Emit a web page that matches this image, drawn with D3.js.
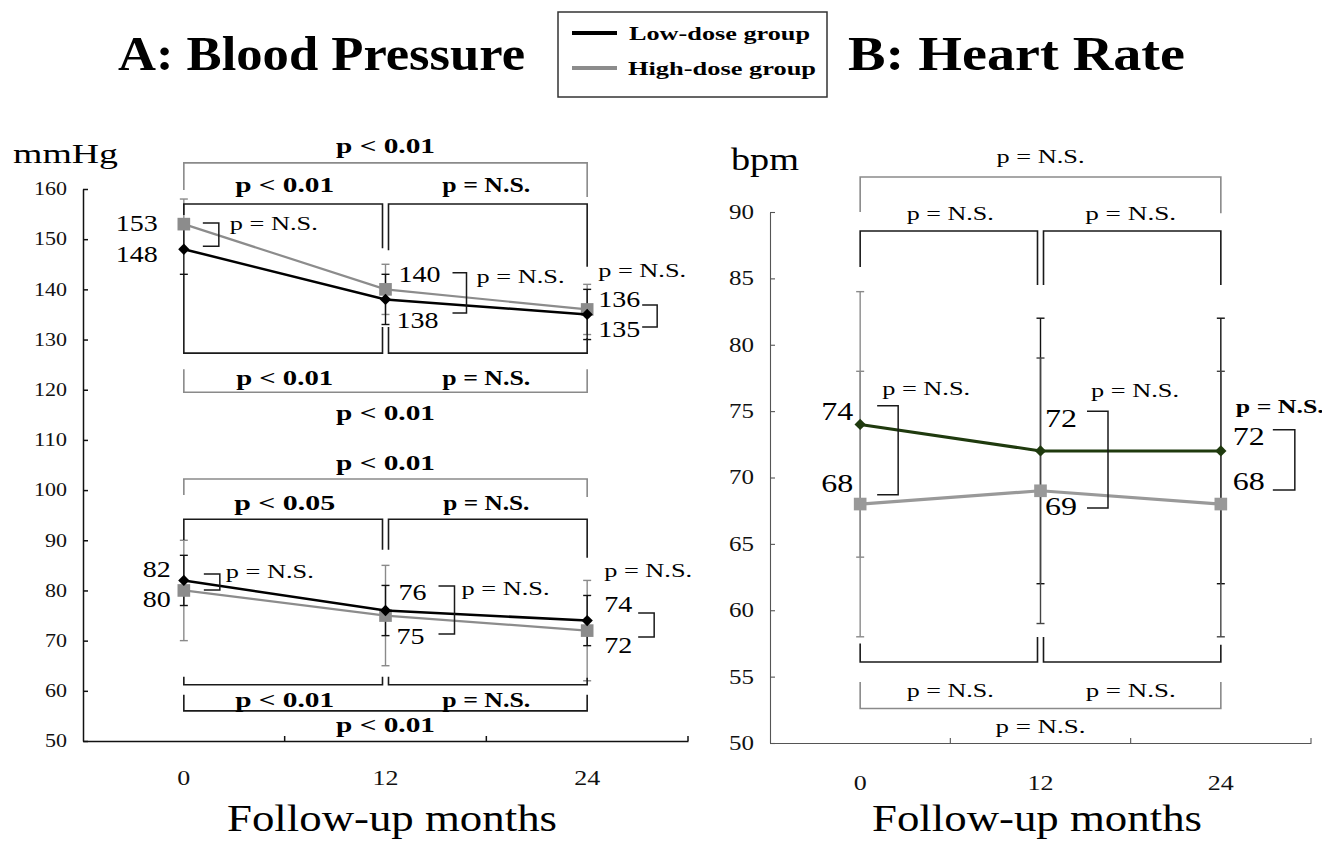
<!DOCTYPE html>
<html>
<head>
<meta charset="utf-8">
<script src="https://cdn.jsdelivr.net/npm/d3@7"></script>
<style>
  body { margin: 0; background: #fff; }
  text { font-family: "Liberation Serif", "Times New Roman", serif; }
</style>
</head>
<body>
<div id="chart"></div>
<script>
// ---- data ----
var months = ["0", "12", "24"];
var groups = ["Low-dose group", "High-dose group"];

var sbpLow = [148, 138, 135],  sbpLowSD = [5, 5, 5];
var sbpHigh = [153, 140, 136], sbpHighSD = [5, 5, 5];
var dbpLow = [82, 76, 74],     dbpLowSD = [5, 5, 5];
var dbpHigh = [80, 75, 72],    dbpHighSD = [10, 10, 10];
var hrLow = [74, 72, 72],      hrLowSD = [10, 10, 10];
var hrHigh = [68, 69, 68],     hrHighSD = [10, 10, 10];

var bpTicks = [50, 60, 70, 80, 90, 100, 110, 120, 130, 140, 150, 160];
var hrTicks = [50, 55, 60, 65, 70, 75, 80, 85, 90];

// significance brackets between visits (a,b = visit index, lvl/l0/l1 in axis units)
var sbpBrackets = [
  {a: 0, b: 2, lvl: 165.2, l0: 159.8, l1: 158.4, gray: true},
  {a: 0, b: 1, lvl: 157.0, l0: 154.8, l1: 148.2},
  {a: 1, b: 2, lvl: 157.0, l0: 147.8, l1: 144.5},
  {a: 0, b: 1, lvl: 127.3, l0: 142.9, l1: 132.5},
  {a: 1, b: 2, lvl: 127.3, l0: 132.5, l1: 130.3},
  {a: 0, b: 2, lvl: 119.5, l0: 124.1, l1: 124.1, gray: true}
];
var sbpPvals = [
  {t: "p < 0.01", a: 0, b: 2, v: 167.2, w: 99},
  {t: "p < 0.01", a: 0, b: 1, v: 159.4, w: 99},
  {t: "p = N.S.", a: 1, b: 2, v: 159.4, w: 88},
  {t: "p < 0.01", a: 0, b: 1, v: 120.9, w: 97},
  {t: "p = N.S.", a: 1, b: 2, v: 120.9, w: 88},
  {t: "p < 0.01", a: 0, b: 2, v: 114.0, w: 99}
];
var dbpBrackets = [
  {a: 0, b: 2, lvl: 102.2, l0: 99.0, l1: 98.6, gray: true},
  {a: 0, b: 1, lvl: 94.2, l0: 90.05, l1: 88.1},
  {a: 1, b: 2, lvl: 94.2, l0: 88.1, l1: 86.5},
  {a: 0, b: 1, lvl: 61.2, l0: 62.8, l1: 62.8},
  {a: 1, b: 2, lvl: 61.2, l0: 62.8, l1: 62.6},
  {a: 0, b: 2, lvl: 56.0, l0: 59.2, l1: 59.2}
];
var dbpPvals = [
  {t: "p < 0.01", a: 0, b: 2, v: 104.0, w: 99},
  {t: "p < 0.05", a: 0, b: 1, v: 96.0, w: 101},
  {t: "p = N.S.", a: 1, b: 2, v: 96.0, w: 86},
  {t: "p < 0.01", a: 0, b: 1, v: 56.8, w: 99},
  {t: "p = N.S.", a: 1, b: 2, v: 56.8, w: 88},
  {t: "p < 0.01", a: 0, b: 2, v: 51.8, w: 99}
];
var hrBrackets = [
  {a: 0, b: 2, lvl: 92.64, l0: 90.0, l1: 89.9, gray: true},
  {a: 0, b: 1, lvl: 88.57, l0: 85.86, l1: 84.5},
  {a: 1, b: 2, lvl: 88.57, l0: 84.5, l1: 84.5},
  {a: 0, b: 1, lvl: 56.1, l0: 57.5, l1: 57.98},
  {a: 1, b: 2, lvl: 56.1, l0: 57.98, l1: 57.4},
  {a: 0, b: 2, lvl: 52.6, l0: 54.6, l1: 54.6, gray: true}
];
var hrPvals = [
  {t: "p = N.S.", a: 0, b: 2, v: 93.7, w: 88},
  {t: "p = N.S.", a: 0, b: 1, v: 89.4, w: 87},
  {t: "p = N.S.", a: 1, b: 2, v: 89.4, w: 91},
  {t: "p = N.S.", a: 0, b: 1, v: 53.5, w: 87},
  {t: "p = N.S.", a: 1, b: 2, v: 53.5, w: 90},
  {t: "p = N.S.", a: 0, b: 2, v: 50.75, w: 90}
];

// between-group labels at each visit: [dx, axis value]
var sbpCmp = [
  {hi: [-26, 151.6], lo: [-26, 145.45], br: [19, 35, 153.2, 148.6], p: [46, 151.8]},
  {hi: [13, 141.5], lo: [11, 132.3], br: [67, 81, 143.3, 135.3], p: [91, 141.3]},
  {hi: [11, 136.5], lo: [11, 130.5], br: [55, 70, 136.9, 132.5], p: [11, 142.5]}
];
var dbpCmp = [
  {hi: [-13, 82.7], lo: [-13, 76.7], br: [20, 36, 83.3, 80.1], p: [42, 82.5]},
  {hi: [13, 78.1], lo: [11, 69.3], br: [53, 69, 80.9, 71.3], p: [76, 79.1]},
  {hi: [17, 75.7], lo: [17, 67.5], br: [51, 67, 75.5, 70.7], p: [17, 82.7]}
];
var hrCmp = [
  {hi: [-7, 74.33], lo: [-7, 68.9], br: [17, 38, 75.4, 68.7], p: [22, 76.2]},
  {hi: [4.5, 73.8], lo: [4.5, 67.2], br: [46.5, 67.5, 75.0, 67.7], p: [50.5, 76.06]},
  {hi: [12, 72.45], lo: [12, 69.06], br: [52, 74, 73.6, 69.06], p: [15, 74.86, true]}
];

// ---- drawing ----
var W = 1322, H = 841;
var svg = d3.select("#chart").append("svg").attr("width", W).attr("height", H);
svg.append("rect").attr("width", W).attr("height", H).attr("fill", "#fff");

var xL = d3.scaleBand().domain(months).range([83, 688]);
var yL = d3.scaleLinear().domain([50, 160]).range([741, 189]);
var xR = d3.scaleBand().domain(months).range([770, 1311]);
var yR = d3.scaleLinear().domain([50, 90]).range([743, 212]);

function cx(x, i) { return x(months[i]) + x.bandwidth() / 2; }

function txt(g, x, y, s, o) {
  o = o || {};
  var t = g.append("text").attr("x", x).attr("y", y).text(s)
    .attr("text-anchor", o.anchor || "start")
    .attr("fill", o.fill || "#000")
    .style("font-size", (o.size || 18) + "px")
    .style("font-weight", o.bold ? "bold" : "normal");
  if (o.w) t.attr("textLength", o.w).attr("lengthAdjust", "spacingAndGlyphs");
  return t;
}

function axes(g, x, y, ticks, o) {
  var x0 = x.range()[0], y0 = y.range()[0];
  var ya = g.append("g").attr("transform", "translate(" + x0 + ",0)")
    .call(d3.axisLeft(y).tickValues(ticks).tickSizeInner(-5).tickSizeOuter(0).tickPadding(16));
  ya.attr("font-family", null);
  ya.selectAll("path,line").attr("stroke", o.color).attr("stroke-width", o.sw);
  ya.selectAll("text").style("font-size", o.tickSize + "px")
    .attr("fill", "#111")
    .attr("textLength", function(d) { return String(d).length * o.digitW; })
    .attr("lengthAdjust", "spacingAndGlyphs");

  var xa = g.append("g").attr("transform", "translate(0," + y0 + ")")
    .call(d3.axisBottom(x).tickSize(0).tickSizeOuter(0));
  xa.attr("font-family", null);
  xa.selectAll("path").attr("stroke", o.color).attr("stroke-width", o.sw);
  xa.selectAll("text").attr("y", o.xLabDy).attr("dy", 0)
    .style("font-size", "22px").attr("fill", "#111")
    .attr("textLength", function(d) { return d.length * 13; })
    .attr("lengthAdjust", "spacingAndGlyphs");
  // category boundary ticks
  var bnd = months.slice(1).map(function(m) { return x(m); }).concat([x.range()[1]]);
  g.selectAll(null).data(bnd).enter().append("line")
    .attr("x1", function(d) { return d; }).attr("x2", function(d) { return d; })
    .attr("y1", y0).attr("y2", y0 - 5)
    .attr("stroke", o.color).attr("stroke-width", o.sw);
}

function errorBars(g, x, y, vals, sds, colors) {
  vals.forEach(function(v, i) {
    var c = cx(x, i), top = y(v + sds[i]), bot = y(v - sds[i]);
    var col = colors[i];
    g.append("line").attr("x1", c).attr("x2", c).attr("y1", top).attr("y2", bot)
      .attr("stroke", col).attr("stroke-width", 1.4);
    [top, bot].forEach(function(yy) {
      g.append("line").attr("x1", c - 4).attr("x2", c + 4).attr("y1", yy).attr("y2", yy)
        .attr("stroke", col).attr("stroke-width", 1.4);
    });
  });
}

function series(g, x, y, vals, color, width, shape) {
  var line = d3.line().x(function(d, i) { return cx(x, i); }).y(function(d) { return y(d); });
  g.append("path").datum(vals).attr("d", line).attr("fill", "none")
    .attr("stroke", color).attr("stroke-width", width);
  var sym = shape === "square" ? d3.symbol(d3.symbolSquare, 160) : d3.symbol(d3.symbolSquare, 64);
  g.selectAll(null).data(vals).enter().append("path")
    .attr("d", sym)
    .attr("transform", function(d, i) {
      return "translate(" + cx(x, i) + "," + y(d) + ")" + (shape === "square" ? "" : " rotate(45)");
    })
    .attr("fill", color);
}

function brackets(g, x, y, list) {
  list.forEach(function(b) {
    var xa = cx(x, b.a) + (b.a === 1 ? 3 : 0), xb = cx(x, b.b) - (b.b === 1 ? 3 : 0);
    var p = d3.path();
    p.moveTo(xa, y(b.l0)); p.lineTo(xa, y(b.lvl)); p.lineTo(xb, y(b.lvl)); p.lineTo(xb, y(b.l1));
    g.append("path").attr("d", p.toString()).attr("fill", "none")
      .attr("stroke", b.gray ? "#8a8a8a" : "#1a1a1a").attr("stroke-width", 1.6);
  });
}

function pvals(g, x, y, list, bold, size) {
  list.forEach(function(p) {
    txt(g, (cx(x, p.a) + cx(x, p.b)) / 2, y(p.v), p.t,
      {anchor: "middle", bold: bold, size: size, w: p.w});
  });
}

function compare(g, x, y, top, bottom, layout, o) {
  layout.forEach(function(c, i) {
    var xc = cx(x, i);
    [[c.hi, top[i]], [c.lo, bottom[i]]].forEach(function(q) {
      var s = String(q[1]);
      txt(g, xc + q[0][0], y(q[0][1]), s, {anchor: q[0][0] < 0 ? "end" : "start",
        size: o.size, w: s.length * o.digitW});
    });
    var p = d3.path();
    p.moveTo(xc + c.br[0], y(c.br[2])); p.lineTo(xc + c.br[1], y(c.br[2]));
    p.lineTo(xc + c.br[1], y(c.br[3])); p.lineTo(xc + c.br[0], y(c.br[3]));
    g.append("path").attr("d", p.toString()).attr("fill", "none")
      .attr("stroke", "#1a1a1a").attr("stroke-width", 1.5);
    txt(g, xc + c.p[0], y(c.p[1]), "p = N.S.", {size: 18, w: 88, bold: c.p[2]});
  });
}

// ---- titles & legend ----
txt(svg, 118, 70, "A: Blood Pressure", {size: 48, bold: true, w: 407});
txt(svg, 848, 70, "B: Heart Rate", {size: 48, bold: true, w: 337});

var leg = svg.append("g");
leg.append("rect").attr("x", 558).attr("y", 12).attr("width", 269).attr("height", 85)
  .attr("fill", "#fff").attr("stroke", "#333").attr("stroke-width", 1.5);
leg.append("line").attr("x1", 572).attr("x2", 617).attr("y1", 33).attr("y2", 33)
  .attr("stroke", "#000").attr("stroke-width", 4);
leg.append("line").attr("x1", 572).attr("x2", 617).attr("y1", 68).attr("y2", 68)
  .attr("stroke", "#8c8c8c").attr("stroke-width", 4);
txt(leg, 629, 40, groups[0], {size: 19, bold: true, w: 181});
txt(leg, 628, 75, groups[1], {size: 19, bold: true, w: 188});

// ---- panel A ----
var gA = svg.append("g");
axes(gA, xL, yL, bpTicks, {color: "#111", sw: 1.5, tickSize: 18, digitW: 11, xLabDy: 44});
txt(gA, 13, 163, "mmHg", {size: 28, w: 105});
txt(gA, 392, 831, "Follow-up months", {size: 37, anchor: "middle", w: 330});

var grayBars = ["#8a8a8a", "#8a8a8a", "#8a8a8a"], blackBars = ["#111", "#111", "#111"];
errorBars(gA, xL, yL, sbpHigh, sbpHighSD, grayBars);
errorBars(gA, xL, yL, sbpLow, sbpLowSD, blackBars);
errorBars(gA, xL, yL, dbpHigh, dbpHighSD, grayBars);
errorBars(gA, xL, yL, dbpLow, dbpLowSD, blackBars);
brackets(gA, xL, yL, sbpBrackets);
brackets(gA, xL, yL, dbpBrackets);
series(gA, xL, yL, sbpHigh, "#8c8c8c", 2.2, "square");
series(gA, xL, yL, sbpLow, "#000", 2.5, "diamond");
series(gA, xL, yL, dbpHigh, "#8c8c8c", 2.2, "square");
series(gA, xL, yL, dbpLow, "#000", 2.5, "diamond");
pvals(gA, xL, yL, sbpPvals, true, 21);
pvals(gA, xL, yL, dbpPvals, true, 21);
compare(gA, xL, yL, sbpHigh, sbpLow, sbpCmp, {size: 24, digitW: 14});
compare(gA, xL, yL, dbpLow, dbpHigh, dbpCmp, {size: 24, digitW: 14});

// ---- panel B ----
var gB = svg.append("g");
axes(gB, xR, yR, hrTicks, {color: "#555", sw: 1.1, tickSize: 20, digitW: 12.5, xLabDy: 47});
txt(gB, 731, 170, "bpm", {size: 32, w: 68});
txt(gB, 1037, 831, "Follow-up months", {size: 37, anchor: "middle", w: 330});

errorBars(gB, xR, yR, hrLow, hrLowSD, ["#8a8a8a", "#111", "#111"]);
errorBars(gB, xR, yR, hrHigh, hrHighSD, ["#8a8a8a", "#444", "#444"]);
brackets(gB, xR, yR, hrBrackets);
series(gB, xR, yR, hrHigh, "#999", 3.2, "square");
series(gB, xR, yR, hrLow, "#1f3a0e", 3, "diamond");
pvals(gB, xR, yR, hrPvals, false, 18);
compare(gB, xR, yR, hrLow, hrHigh, hrCmp, {size: 26, digitW: 16});
</script>
</body>
</html>
